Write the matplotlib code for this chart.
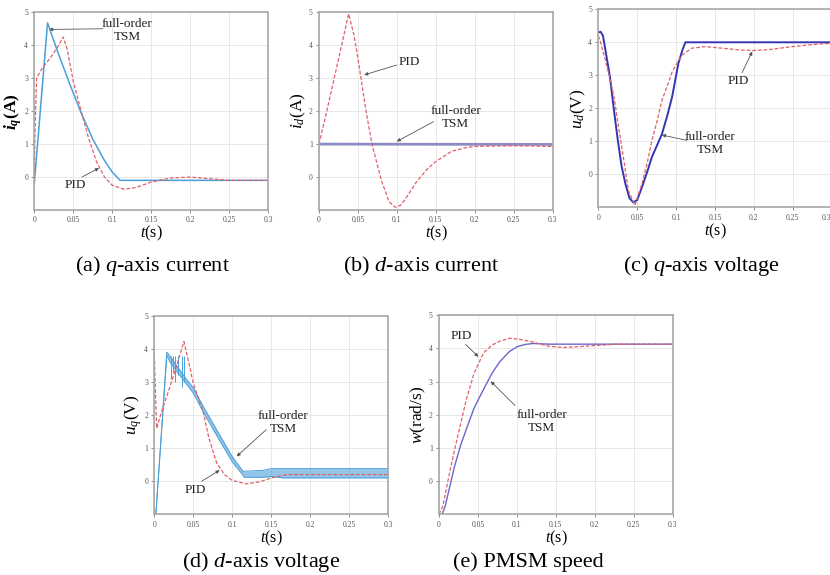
import matplotlib
matplotlib.use("Agg")
import matplotlib.pyplot as plt

plt.rcParams['font.family'] = ['Liberation Serif', 'DejaVu Serif']
plt.rcParams['mathtext.fontset'] = 'custom'
plt.rcParams['mathtext.rm'] = 'Liberation Serif'
plt.rcParams['mathtext.it'] = 'Liberation Serif:italic'
plt.rcParams['mathtext.bf'] = 'Liberation Serif:bold:italic'

# ---------------- data ----------------
x_ticks = [0, 0.05, 0.1, 0.15, 0.2, 0.25, 0.3]
x_tick_labels = ["0", "0.05", "0.1", "0.15", "0.2", "0.25", "0.3"]
y_ticks = [0, 1, 2, 3, 4, 5]

# (a) q-axis current
iq_tsm_t = [0, 0.017, 0.03, 0.045, 0.06, 0.075, 0.09, 0.1, 0.11, 0.3]
iq_tsm_v = [-0.2, 4.68, 3.8, 2.85, 1.95, 1.15, 0.5, 0.15, -0.1, -0.1]
iq_pid_t = [0, 0.001, 0.003, 0.01, 0.02, 0.03, 0.037, 0.042, 0.05, 0.06, 0.07, 0.08,
            0.09, 0.1, 0.115, 0.13, 0.15, 0.175, 0.2, 0.225, 0.25, 0.3]
iq_pid_v = [0, 1.5, 3.0, 3.3, 3.6, 3.95, 4.25, 3.9, 2.9, 2.0, 1.15, 0.45,
            0.0, -0.25, -0.37, -0.32, -0.15, -0.03, 0.0, -0.05, -0.1, -0.1]

# (b) d-axis current
id_tsm_t = [0, 0.3]
id_tsm_v = [1.0, 0.99]
id_pid_t = [0, 0.01, 0.02, 0.03, 0.038, 0.045, 0.05, 0.06, 0.068, 0.08, 0.09, 0.098,
            0.105, 0.11, 0.125, 0.14, 0.15, 0.17, 0.19, 0.2, 0.25, 0.3]
id_pid_v = [1.0, 2.0, 3.05, 4.1, 4.95, 4.3, 3.6, 2.05, 1.0, -0.1, -0.75, -0.92,
            -0.85, -0.7, -0.15, 0.27, 0.47, 0.78, 0.9, 0.93, 0.95, 0.93]

# (c) q-axis voltage
uq_tsm_t = [0, 0.003, 0.006, 0.01, 0.015, 0.02, 0.025, 0.03, 0.035, 0.04, 0.045, 0.05,
            0.056, 0.063, 0.069, 0.076, 0.082, 0.089, 0.095, 0.103, 0.108, 0.112, 0.3]
uq_tsm_v = [4.3, 4.32, 4.2, 3.65, 2.95, 1.97, 1.05, 0.24, -0.3, -0.72, -0.85, -0.78,
            -0.4, 0.08, 0.53, 0.9, 1.23, 1.8, 2.35, 3.36, 3.75, 4.0, 4.0]
uq_pid_t = [0, 0.003, 0.0086, 0.015, 0.0202, 0.025, 0.0301, 0.035, 0.0387, 0.047, 0.056,
            0.063, 0.069, 0.076, 0.082, 0.089, 0.095, 0.107, 0.12, 0.1375, 0.16, 0.18,
            0.2, 0.22, 0.25, 0.275, 0.3]
uq_pid_v = [4.2, 4.0, 3.5, 2.9, 2.35, 1.6, 0.83, 0.1, -0.49, -0.94, -0.3,
            0.35, 1.03, 1.65, 2.25, 2.7, 3.1, 3.6, 3.82, 3.87, 3.82, 3.77,
            3.75, 3.78, 3.87, 3.93, 3.97]

# (d) d-axis voltage (TSM shown as a chattering band: upper / lower envelope)
ud_tsm_t = [0.002, 0.016, 0.02, 0.03, 0.04, 0.05, 0.063, 0.08, 0.1, 0.113, 0.115,
            0.14, 0.15, 0.165, 0.3]
ud_tsm_hi = [-1.0, 3.9, 3.78, 3.45, 3.12, 2.82, 2.25, 1.55, 0.74, 0.32, 0.3,
             0.33, 0.38, 0.38, 0.38]
ud_tsm_lo = [-1.0, 3.8, 3.6, 3.28, 2.97, 2.66, 2.08, 1.38, 0.58, 0.2, 0.12,
             0.12, 0.14, 0.1, 0.1]
ud_spike_t = [0.021, 0.024, 0.027, 0.031, 0.035, 0.038]
ud_spike_lo = [3.1, 3.3, 3.0, 3.2, 2.85, 3.0]
ud_pid_t = [0, 0.003, 0.01, 0.02, 0.03, 0.038, 0.045, 0.05, 0.063, 0.07, 0.08, 0.09,
            0.1, 0.118, 0.135, 0.15, 0.17, 0.3]
ud_pid_v = [3.8, 1.6, 2.15, 2.85, 3.6, 4.22, 3.5, 2.96, 2.06, 1.3, 0.55, 0.2,
            0.02, -0.08, -0.02, 0.1, 0.2, 0.2]

# (e) PMSM speed
w_tsm_t = [0.004, 0.008, 0.014, 0.02, 0.028, 0.035, 0.045, 0.057, 0.068, 0.078, 0.09,
           0.1, 0.11, 0.121, 0.14, 0.3]
w_tsm_v = [-1, -0.75, -0.15, 0.45, 1.1, 1.56, 2.2, 2.76, 3.25, 3.6, 3.9,
           4.05, 4.12, 4.15, 4.13, 4.13]
w_pid_t = [0, 0.005, 0.014, 0.02, 0.028, 0.035, 0.045, 0.057, 0.068, 0.078, 0.091,
           0.105, 0.121, 0.14, 0.16, 0.19, 0.228, 0.3]
w_pid_v = [-1, -0.75, 0.3, 0.95, 1.75, 2.46, 3.25, 3.86, 4.1, 4.22, 4.31,
           4.27, 4.19, 4.07, 4.03, 4.07, 4.13, 4.13]

captions = [r"(a) $q$-axis current", r"(b) $d$-axis current", r"(c) $q$-axis voltage",
            r"(d) $d$-axis voltage", "(e) PMSM speed"]
ylabels = [r"$\mathbf{i_q}$(A)", r"$i_d$(A)", r"$u_d$(V)", r"$u_q$(V)", r"$w$(rad/s)"]

# ---------------- styling ----------------
RED = "#e0606a"
LBLUE = "#4a9fd8"
PURPLE = "#8c8cc4"
DBLUE = "#3434b4"
MBLUE = "#6868cc"
SPINE = "#a8a8a8"
GRID = "#e8e8e8"

fig = plt.figure(figsize=(8.3, 5.75), dpi=100)
W, H = 830, 575


def make_ax(x0, y0, x1, y1):
    return fig.add_axes([x0 / W, 1 - y1 / H, (x1 - x0) / W, (y1 - y0) / H])


rects = [(34.3, 12.3, 268.3, 210), (319, 12.3, 552.7, 210), (598.3, 9.3, 831.5, 207.3),
         (154.3, 315.7, 388.3, 514.3), (439, 315.3, 672.7, 514.3)]
axes = [make_ax(*r) for r in rects]

for i, ax in enumerate(axes):
    ax.set_xlim(0, 0.3)
    ax.set_ylim(-1, 5)
    ax.set_xticks(x_ticks)
    ax.set_xticklabels(x_tick_labels)
    ax.set_yticks(y_ticks)
    ax.tick_params(labelsize=5.5, labelcolor="#555555", colors="#777777", length=2.5,
                   width=0.6, pad=2, direction="out")
    ax.grid(True, color=GRID, linewidth=0.7)
    ax.set_axisbelow(True)
    for s in ax.spines.values():
        s.set_color(SPINE)
        s.set_linewidth(1.2)
    ax.set_xlabel(r"$t$(s)", fontsize=11.5, labelpad=0)
    ax.set_ylabel(ylabels[i], fontsize=12.5, labelpad=2,
                  fontweight="bold" if i == 0 else "normal")
    ax.yaxis.set_label_coords(-0.045, 0.5)

# last tick label of the right-edge panel kept inside the picture
axes[2].get_xticklabels()[-1].set_ha("right")

# plot curves
DASH = (0, (3, 1.5))
ax = axes[0]
ax.plot(iq_tsm_t, iq_tsm_v, color=LBLUE, lw=1.1)
ax.plot(iq_pid_t, iq_pid_v, color=RED, lw=0.9, ls=DASH)

ax = axes[1]
ax.plot(id_tsm_t, id_tsm_v, color=PURPLE, lw=2.0)
ax.plot(id_pid_t, id_pid_v, color=RED, lw=0.9, ls=DASH)

ax = axes[2]
ax.plot(uq_tsm_t, uq_tsm_v, color=DBLUE, lw=1.4)
ax.plot(uq_pid_t, uq_pid_v, color=RED, lw=0.9, ls=DASH)

ax = axes[3]
ax.fill_between(ud_tsm_t, ud_tsm_lo, ud_tsm_hi, color=LBLUE, alpha=0.6, lw=0)
ax.plot(ud_tsm_t, ud_tsm_hi, color=LBLUE, lw=0.7)
ax.plot(ud_tsm_t, ud_tsm_lo, color=LBLUE, lw=0.7)
ax.vlines(ud_spike_t, ud_spike_lo, [ud_tsm_hi[2]] * len(ud_spike_t), color=LBLUE, lw=0.7)
ax.plot(ud_pid_t, ud_pid_v, color=RED, lw=0.9, ls=DASH)

ax = axes[4]
ax.plot(w_tsm_t, w_tsm_v, color=MBLUE, lw=1.0)
ax.plot(w_pid_t, w_pid_v, color=RED, lw=0.9, ls=DASH)

# annotations: (axes index, text, text xy, arrow tail, arrow head)
ann = [
    (0, "full-order\nTSM", (0.119, 4.45), (0.088, 4.5), (0.019, 4.48)),
    (0, "PID", (0.052, -0.24), (0.061, 0.0), (0.083, 0.27)),
    (1, "PID", (0.1155, 3.48), (0.0998, 3.4), (0.058, 3.1)),
    (1, "full-order\nTSM", (0.1755, 1.82), (0.147, 1.68), (0.0998, 1.08)),
    (2, "PID", (0.1805, 2.83), (0.185, 3.08), (0.198, 3.72)),
    (2, "full-order\nTSM", (0.144, 0.93), (0.114, 1.03), (0.0817, 1.19)),
    (3, "full-order\nTSM", (0.1654, 1.76), (0.1436, 1.56), (0.1056, 0.75)),
    (3, "PID", (0.0522, -0.27), (0.0607, 0.0), (0.0838, 0.33)),
    (4, "PID", (0.029, 4.39), (0.0342, 4.12), (0.0505, 3.75)),
    (4, "full-order\nTSM", (0.132, 1.81), (0.0976, 2.28), (0.0664, 3.01)),
]
for idx, txt, txy, tail, head in ann:
    a = axes[idx]
    a.text(txy[0], txy[1], txt, ha="center", va="center", fontsize=9.5,
           linespacing=1.1, color="#222222")
    a.annotate("", xy=head, xytext=tail,
               arrowprops=dict(arrowstyle="-|>", color="#555555", lw=0.6,
                               mutation_scale=5, shrinkA=0, shrinkB=0))

# captions
cap_pos = [(152, 266), (421, 266), (701, 266), (261, 562), (528, 562)]
for (cx, cy), c in zip(cap_pos, captions):
    fig.text(cx / W, 1 - cy / H, c, ha="center", va="center", fontsize=16)

fig.savefig("out.png", dpi=100)
